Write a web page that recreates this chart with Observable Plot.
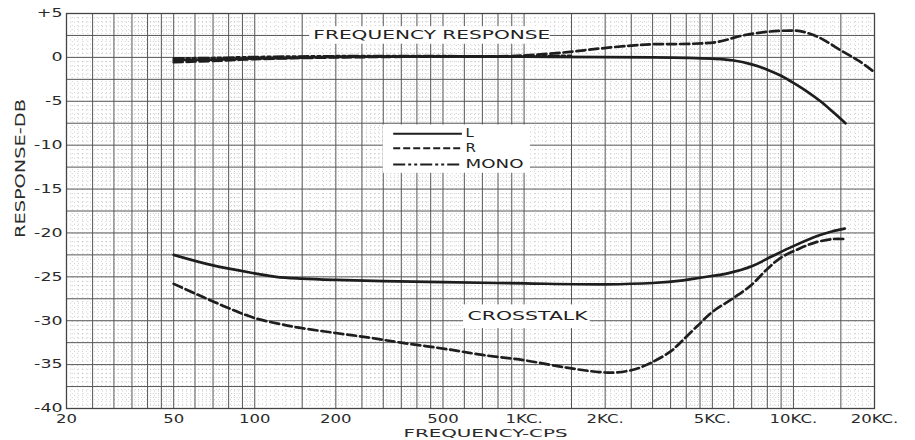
<!DOCTYPE html>
<html><head><meta charset="utf-8">
<script src="https://cdn.jsdelivr.net/npm/d3@7"></script>
<script src="https://cdn.jsdelivr.net/npm/@observablehq/plot@0.6"></script>
<style>
html,body{margin:0;padding:0;background:#fff;}
#chart svg{display:block;}
</style></head><body><div id="chart"></div>
<script>
// ---- data (frequency in Hz, response in dB) ----
const respL = [[50,-0.3],[70,-0.25],[100,-0.12],[150,-0.02],[200,0.05],[300,0.08],[500,0.1],[1000,0.08],[2000,0.02],[3000,0],[4000,-0.05],[5000,-0.15],[6000,-0.35],[7000,-0.8],[8000,-1.4],[9000,-2.1],[10000,-2.9],[11000,-3.7],[12600,-5.0],[14000,-6.2],[15600,-7.5]];
const respR = [[50,-0.55],[70,-0.4],[100,-0.2],[200,0],[500,0.1],[900,0.15],[1100,0.3],[1450,0.6],[1900,1.0],[2500,1.35],[3000,1.5],[4200,1.55],[5200,1.75],[6500,2.5],[8200,2.95],[10000,3.05],[10600,3.0],[12400,2.3],[15000,0.8],[17500,-0.4],[20000,-1.7]];
const respMono = [[50,-0.1],[70,-0.05],[100,0.05],[200,0.15],[500,0.15],[1000,0.15],[1500,0.2]];
const crossL = [[50,-22.5],[70,-23.7],[100,-24.6],[120,-25.0],[150,-25.2],[200,-25.35],[300,-25.5],[500,-25.6],[1000,-25.75],[2000,-25.85],[3000,-25.7],[3900,-25.4],[4500,-25.1],[5700,-24.6],[7000,-23.8],[8400,-22.6],[10000,-21.5],[12400,-20.3],[14000,-19.8],[15500,-19.5]];
const crossR = [[50,-25.8],[60,-26.9],[70,-27.8],[85,-28.9],[100,-29.7],[125,-30.4],[150,-30.85],[200,-31.4],[262,-31.9],[350,-32.5],[533,-33.3],[700,-33.9],[1000,-34.5],[1440,-35.35],[1900,-35.85],[2200,-35.9],[2600,-35.5],[3000,-34.7],[3500,-33.5],[3800,-32.5],[4400,-30.6],[5000,-29],[6000,-27.4],[7000,-25.9],[8000,-24.1],[9000,-22.8],[10500,-21.8],[12000,-21.1],[14000,-20.7],[15500,-20.7]];

const xTicks = [20,50,100,200,500,1000,2000,5000,10000,20000];
const xTickLabels = ["20","50","100","200","500","1KC.","2KC.","5KC.","10KC.","20KC."];
const yTicks = [5,0,-5,-10,-15,-20,-25,-30,-35,-40];
const yTickLabels = ["+5","0","-5","-10","-15","-20","-25","-30","-35","-40"];
const legendLabels = ["L","R","MONO"];
const titleTexts = ["FREQUENCY RESPONSE","CROSSTALK"];
const xLabel = "FREQUENCY-CPS";
const yLabel = "RESPONSE-DB";

// ---- graph paper rulings ----
const decades = [10,100,1000,10000];
const majorMult = [1,1.5,2,2.5,3,3.5,4,4.5,5,6,7,8,9];
const gridMajorX = [], gridMinorX = [];
for (const d of decades) {
  for (let k = 10; k < 100; k += (k < 50 ? 1 : 2)) {
    const m = k / 10, f = Math.round(m * d * 100) / 100;
    if (f < 20 || f > 20000) continue;
    (majorMult.includes(m) ? gridMajorX : gridMinorX).push(f);
  }
}
gridMajorX.push(20000);
const gridMajorY = [], gridMinorY = [];
for (let k = -80; k <= 10; k++) {
  const v = k / 2;
  (k % 5 === 0 ? gridMajorY : gridMinorY).push(v);
}

const ink = "#1e1e1e";
const font = "DejaVu Sans";
const X = d => d[0], Y = d => d[1];
const crv = "catmull-rom";

const chart = Plot.plot({
  width: 915, height: 440,
  marginLeft: 66, marginRight: 41, marginTop: 13, marginBottom: 32,
  x: {type: "log", domain: [20, 20000], axis: null},
  y: {domain: [-40, 5], axis: null},
  style: {fontFamily: font, background: "white", color: "#2a2a2a", overflow: "visible"},
  marks: [
    Plot.ruleX(gridMinorX, {stroke: "#777", strokeOpacity: 0.45, strokeWidth: 0.8, strokeDasharray: "1,3"}),
    Plot.ruleY(gridMinorY, {stroke: "#777", strokeOpacity: 0.45, strokeWidth: 0.8, strokeDasharray: "1,3"}),
    Plot.ruleX(gridMajorX, {stroke: "#555", strokeWidth: 1}),
    Plot.ruleY(gridMajorY, {stroke: "#555", strokeWidth: 1}),
    Plot.frame({stroke: "#444", strokeWidth: 1.3}),
    // white label strips
    Plot.rect([0], {x1: 160, x2: 1250, y1: 1.5, y2: 3.5, fill: "white"}),
    Plot.rect([0], {x1: 596, x2: 1760, y1: -30.9, y2: -28.2, fill: "white"}),
    Plot.rect([0], {x1: 300, x2: 1056, y1: -13.2, y2: -7.7, fill: "white"}),
    // curves
    Plot.line(respMono, {x: X, y: Y, curve: crv, stroke: ink, strokeWidth: 2.4, strokeDasharray: "10,3,3,3,3,3"}),
    Plot.line(respR, {x: X, y: Y, curve: crv, stroke: ink, strokeWidth: 2.7, strokeDasharray: "9,4"}),
    Plot.line(respL, {x: X, y: Y, curve: crv, stroke: ink, strokeWidth: 2.7}),
    Plot.line(crossL, {x: X, y: Y, curve: crv, stroke: ink, strokeWidth: 2.7}),
    Plot.line(crossR, {x: X, y: Y, curve: crv, stroke: ink, strokeWidth: 2.7, strokeDasharray: "9,4"}),
    // legend
    Plot.ruleY([-8.7], {x1: 328, x2: 590, stroke: ink, strokeWidth: 2}),
    Plot.ruleY([-10.35], {x1: 328, x2: 590, stroke: ink, strokeWidth: 2, strokeDasharray: "7,3"}),
    Plot.ruleY([-12.2], {x1: 328, x2: 590, stroke: ink, strokeWidth: 2, strokeDasharray: "12,3,3,3,3,3"}),
    Plot.text(legendLabels, {x: 606, y: (d, i) => [-8.7, -10.35, -12.2][i], text: d => d, textAnchor: "start", fontSize: 11.5, fill: "#222"}),
    // annotations
    Plot.text([titleTexts[0]], {x: 165, y: 2.5, text: d => d, textAnchor: "start", fontSize: 12, fill: "#222"}),
    Plot.text([titleTexts[1]], {x: 617, y: -29.45, text: d => d, textAnchor: "start", fontSize: 12.5, fill: "#222"}),
    // tick labels
    Plot.text(xTicks, {x: d => d, frameAnchor: "bottom", lineAnchor: "top", dy: 6, text: (d, i) => xTickLabels[i], fontSize: 12.5, fill: "#2a2a2a"}),
    Plot.text(yTicks, {y: d => d, frameAnchor: "left", textAnchor: "end", dx: -4, text: (d, i) => yTickLabels[i], fontSize: 12, fill: "#2a2a2a"}),
    // axis titles
    Plot.text([xLabel], {frameAnchor: "bottom", lineAnchor: "top", dy: 21, dx: 15, text: d => d, fontSize: 11, fill: "#2a2a2a"}),
    Plot.text([yLabel], {frameAnchor: "left", dx: -46, dy: 27, rotate: -90, text: d => d, fontSize: 14.5, fill: "#2a2a2a"})
  ]
});
document.getElementById("chart").appendChild(chart);

// widen the lettering like the drafting-stencil originals
const exact = new Map([["FREQUENCY RESPONSE", 237], ["CROSSTALK", 120], ["MONO", 58], [yLabel, 139], [xLabel, 164]]);
d3.select(chart).selectAll("text").each(function () {
  const t = this.textContent;
  let w = null;
  if (exact.has(t)) w = exact.get(t);
  else if (xTickLabels.includes(t)) w = this.getComputedTextLength() * 1.32;
  else if (yTickLabels.includes(t)) w = this.getComputedTextLength() * 1.45;
  else if (legendLabels.includes(t)) w = this.getComputedTextLength() * 1.3;
  if (w) {
    this.setAttribute("textLength", w.toFixed(1));
    this.setAttribute("lengthAdjust", "spacingAndGlyphs");
  }
});
</script></body></html>
